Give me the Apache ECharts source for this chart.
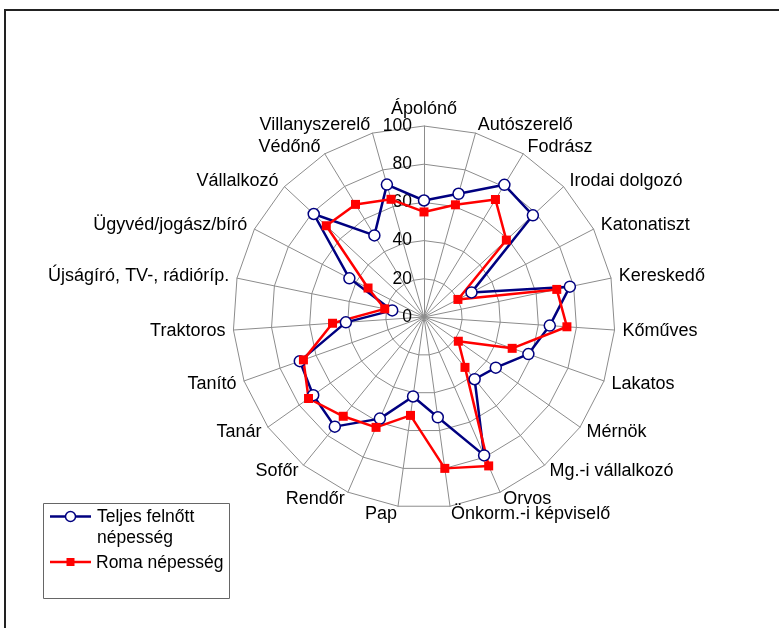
<!DOCTYPE html>
<html>
<head>
	<meta charset="utf-8">
	<title></title>
	<script src="https://cdn.jsdelivr.net/npm/echarts@6/dist/echarts.min.js"></script>
	<style>
		html,body{margin:0;padding:0;background:#fff;}
		#chart{width:779px;height:628px;}
	</style>
</head>
<body>
	<div id="chart"></div>
<script type="text/javascript">
	// categories go clockwise from the top
	var categories = ['Ápolónő','Autószerelő','Fodrász','Irodai dolgozó','Katonatiszt','Kereskedő','Kőműves',
		'Lakatos','Mérnök','Mg.-i vállalkozó','Orvos','Önkorm.-i képviselő','Pap','Rendőr','Sofőr','Tanár',
		'Tanító','Traktoros','Újságíró, TV-, rádióríp.','Ügyvéd/jogász/bíró','Vállalkozó','Védőnő','Villanyszerelő'];
	var teljes = [61,67,81,78,28,78,66,58,46,42,79,53,42,58,74,71,69,41,17,44,79,50,72];
	var roma = [55,61,72,59,20,71,75,49,22,34,85,80,52,63,67,74,67,48,21,33,70,69,64];
	var ticks = [0,20,40,60,80,100];

	// echarts radar runs counter-clockwise, so reverse everything after the first
	var ord = [0];
	for(let i=categories.length-1;i>0;i--) ord.push(i);

	var indicator = ord.map(i => ({name: categories[i], min: 0, max: 100}));
	var font = 'Liberation Sans, Arial, sans-serif';
	var blue = '#000080', red = '#ff0000';

	var myChart = echarts.init(document.getElementById('chart'));
	var option = {
		animation: false,
		textStyle: {fontFamily: font},
		legend: [
			{
				left: 50, top: 496, padding: 0,
				itemWidth: 41, itemHeight: 12,
				itemStyle: {opacity: 0},
				data: ['Teljes felnőtt népesség'],
				formatter: () => 'Teljes felnőtt\nnépesség',
				textStyle: {fontSize: 17.5, color: '#000', lineHeight: 21, padding: [21,0,0,0], fontFamily: font}
			},
			{
				left: 50, top: 553, padding: 0,
				itemWidth: 41, itemHeight: 12,
				itemStyle: {opacity: 0},
				data: ['Roma népesség'],
				textStyle: {fontSize: 17.5, color: '#000', lineHeight: 21, fontFamily: font}
			}
		],
		radar: {
			center: [424, 317],
			radius: 191,
			startAngle: 90,
			splitNumber: 5,
			shape: 'polygon',
			indicator: indicator,
			axisName: {color: '#000', fontSize: 18, fontFamily: font},
			nameGap: 8,
			splitArea: {show: false},
			splitLine: {lineStyle: {color: '#8c8c8c', width: 1}},
			axisLine: {lineStyle: {color: '#8c8c8c', width: 1}}
		},
		polar: {center: [424, 317], radius: 191},
		angleAxis: {show: false, min: 0, max: 360, startAngle: 90},
		radiusAxis: {
			min: 0, max: 100, interval: 20,
			axisLine: {show: false}, axisTick: {show: false}, splitLine: {show: false},
			axisLabel: {fontSize: 17.5, color: '#000', margin: 12, fontFamily: font,
				formatter: v => ticks.indexOf(v) >= 0 ? String(v) : ''}
		},
		series: [{
			type: 'radar',
			z: 3,
			data: [
				{
					name: 'Teljes felnőtt népesség',
					value: ord.map(i => teljes[i]),
					symbol: 'circle', symbolSize: 11,
					lineStyle: {color: blue, width: 2.5},
					itemStyle: {color: '#fff', borderColor: blue, borderWidth: 1.5}
				},
				{
					name: 'Roma népesség',
					value: ord.map(i => roma[i]),
					symbol: 'rect', symbolSize: 9,
					lineStyle: {color: red, width: 2.5},
					itemStyle: {color: red, borderColor: red, borderWidth: 0}
				}
			]
		}],
		graphic: [
			{type: 'rect', shape: {x: 5, y: 10, width: 900, height: 900},
				style: {fill: 'none', stroke: '#222', lineWidth: 2}, silent: true},
			{type: 'rect', shape: {x: 43.5, y: 503.5, width: 186, height: 95},
				style: {fill: 'none', stroke: '#666', lineWidth: 1}, silent: true, z: -1},
			// legend keys: line with marker
			{type: 'line', shape: {x1: 50, y1: 516.5, x2: 91, y2: 516.5},
				style: {stroke: blue, lineWidth: 2.5}, silent: true},
			{type: 'circle', shape: {cx: 70.5, cy: 516.5, r: 5},
				style: {fill: '#fff', stroke: blue, lineWidth: 1.5}, silent: true, z: 101},
			{type: 'line', shape: {x1: 50, y1: 562, x2: 91, y2: 562},
				style: {stroke: red, lineWidth: 2.5}, silent: true},
			{type: 'rect', shape: {x: 66.5, y: 558, width: 8, height: 8},
				style: {fill: red}, silent: true, z: 101}
		]
	};
	myChart.setOption(option);
	window.addEventListener('resize',()=>{
		myChart.resize();
	});
</script>
</body>
</html>
